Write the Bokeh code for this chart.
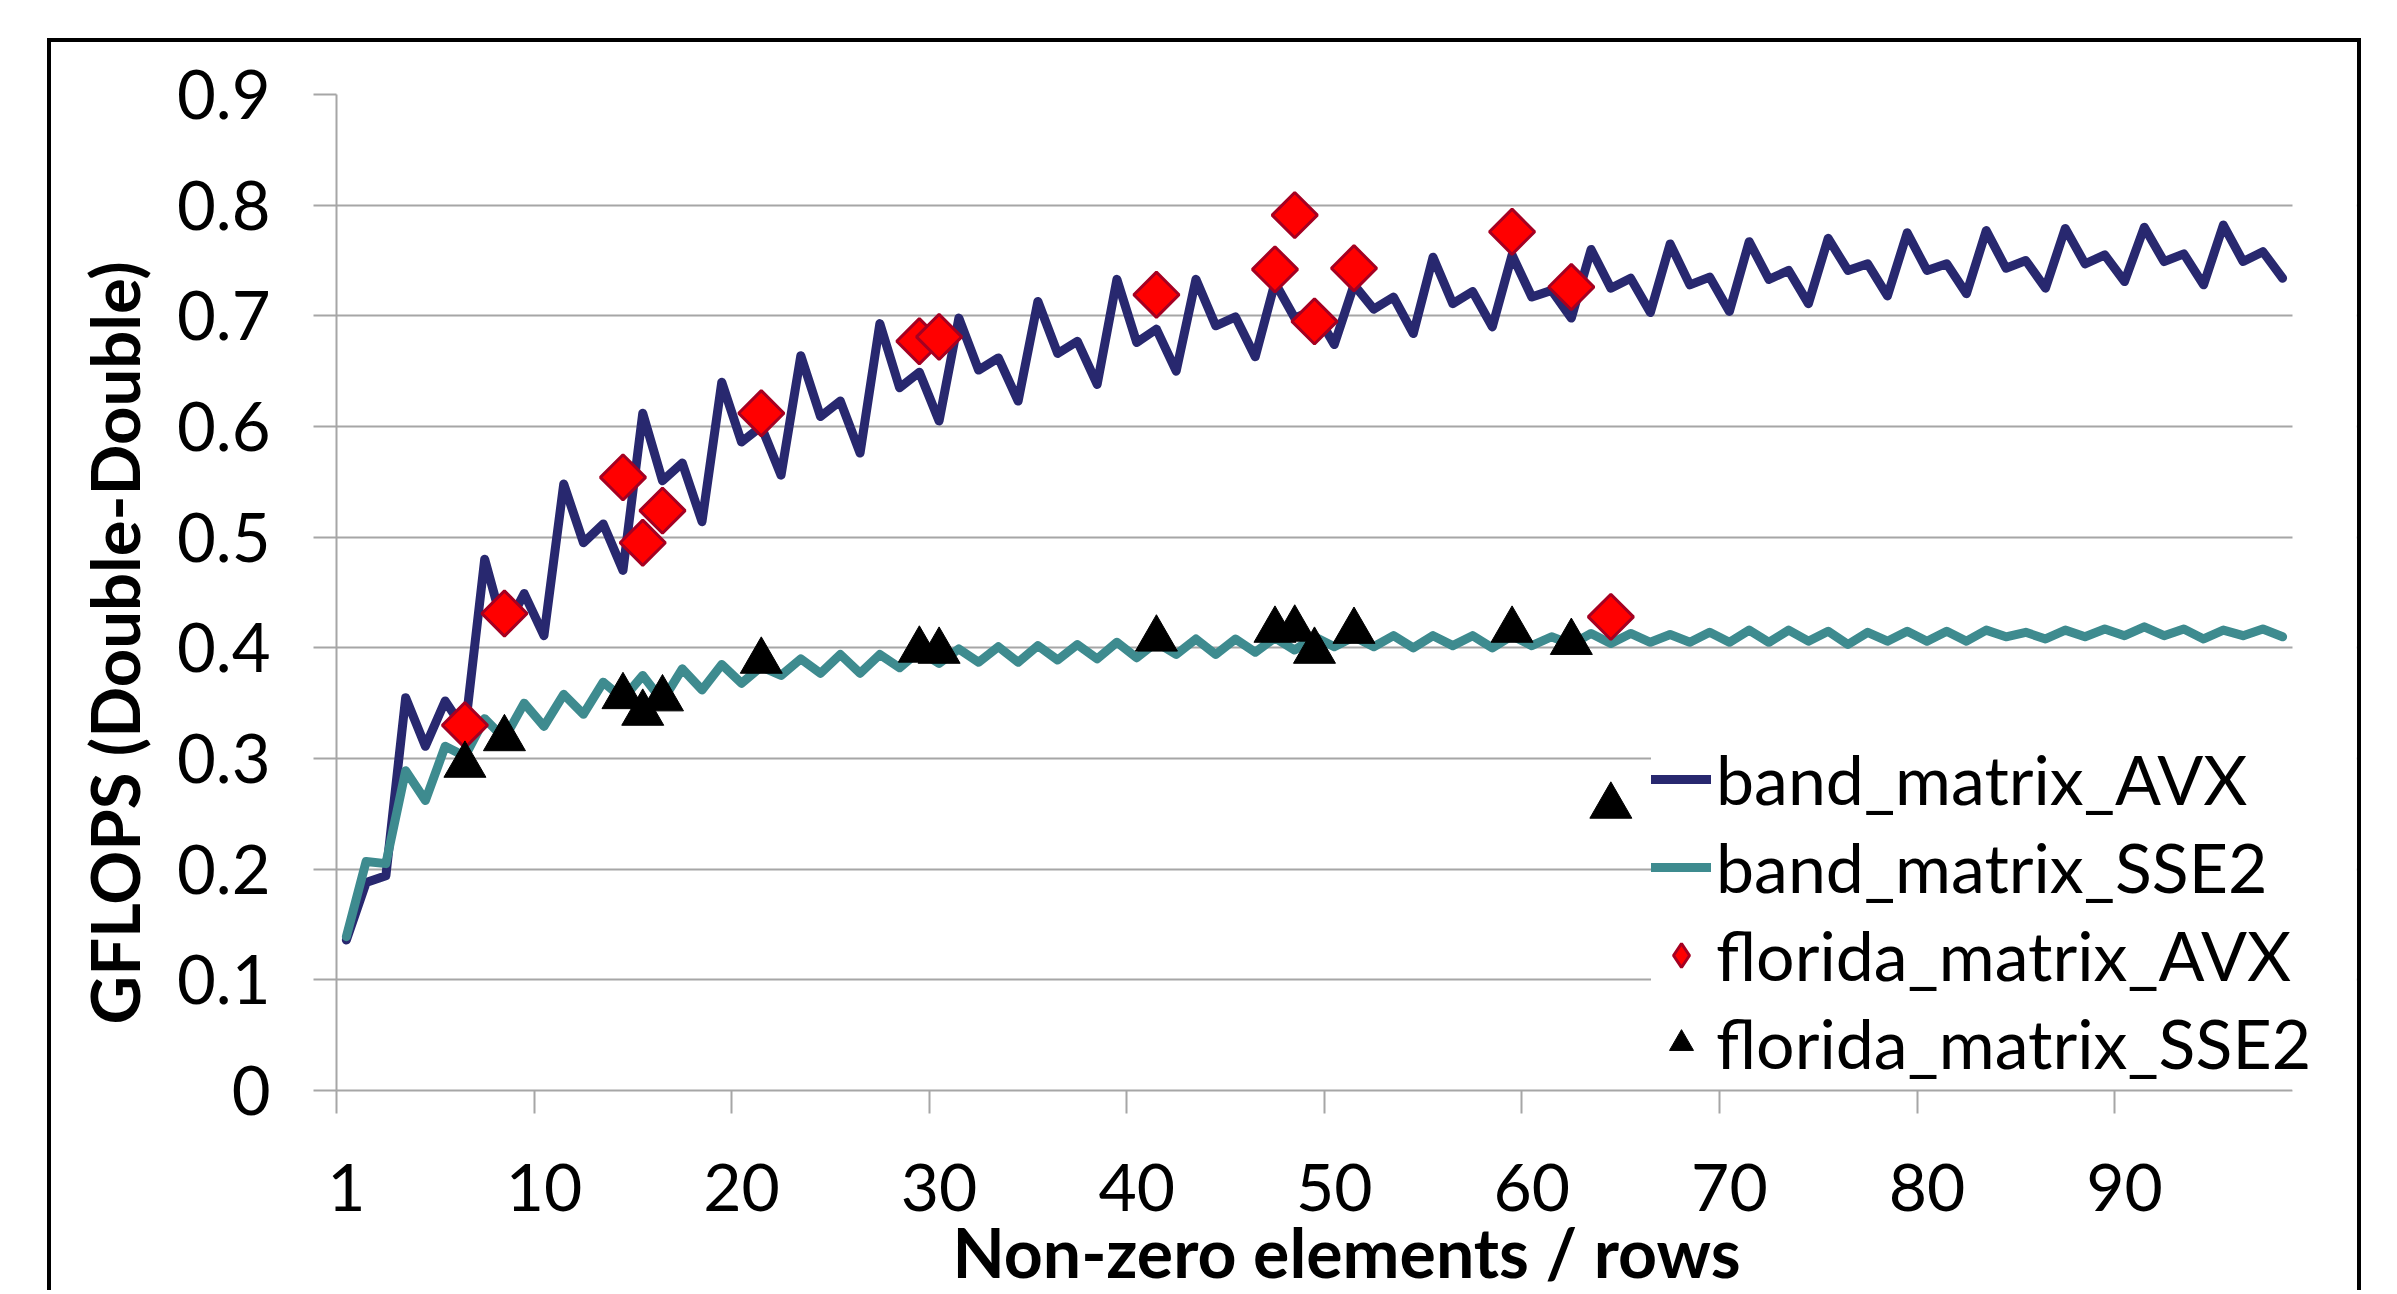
import math
from bokeh.plotting import figure
from bokeh.models import (Range1d, FixedTicker, Legend, LegendItem, Title,
                          BoxAnnotation, ColumnDataSource)
from bokeh.embed import file_html
from bokeh.resources import INLINE

# ---------------- data ----------------
x_tick_values = [0, 10, 20, 30, 40, 50, 60, 70, 80, 90]          # category index
x_tick_labels = ["1", "10", "20", "30", "40", "50", "60", "70", "80", "90"]
y_tick_values = [0.0, 0.1, 0.2, 0.3, 0.4, 0.5, 0.6, 0.7, 0.8, 0.9]
y_tick_labels = ["0", "0.1", "0.2", "0.3", "0.4", "0.5", "0.6", "0.7", "0.8", "0.9"]

band_matrix_AVX = [
    0.136, 0.188, 0.194, 0.355, 0.311, 0.352, 0.325, 0.480, 0.415, 0.449,
    0.411, 0.548, 0.495, 0.512, 0.470, 0.612, 0.551, 0.567, 0.514, 0.640,
    0.586, 0.600, 0.556, 0.664, 0.609, 0.623, 0.576, 0.693, 0.635, 0.649,
    0.605, 0.698, 0.651, 0.662, 0.623, 0.713, 0.666, 0.677, 0.638, 0.733,
    0.676, 0.688, 0.650, 0.733, 0.691, 0.699, 0.663, 0.730, 0.698, 0.705,
    0.674, 0.728, 0.706, 0.717, 0.684, 0.753, 0.711, 0.722, 0.690, 0.755,
    0.717, 0.723, 0.698, 0.760, 0.725, 0.734, 0.703, 0.765, 0.728, 0.735,
    0.704, 0.767, 0.733, 0.741, 0.711, 0.770, 0.741, 0.747, 0.718, 0.775,
    0.741, 0.747, 0.720, 0.777, 0.743, 0.750, 0.725, 0.779, 0.747, 0.755,
    0.731, 0.780, 0.749, 0.756, 0.728, 0.782, 0.749, 0.758, 0.734,
]
band_matrix_SSE2 = [
    0.139, 0.207, 0.205, 0.289, 0.262, 0.311, 0.302, 0.336, 0.318, 0.350,
    0.329, 0.358, 0.340, 0.369, 0.354, 0.375, 0.352, 0.381, 0.362, 0.385,
    0.368, 0.383, 0.375, 0.390, 0.377, 0.394, 0.377, 0.394, 0.382, 0.397,
    0.386, 0.399, 0.387, 0.401, 0.387, 0.402, 0.389, 0.403, 0.390, 0.405,
    0.391, 0.405, 0.394, 0.408, 0.394, 0.408, 0.396, 0.409, 0.398, 0.410,
    0.401, 0.410, 0.401, 0.411, 0.400, 0.411, 0.402, 0.411, 0.400, 0.411,
    0.402, 0.410, 0.403, 0.413, 0.404, 0.413, 0.405, 0.412, 0.405, 0.414,
    0.405, 0.416, 0.405, 0.416, 0.406, 0.415, 0.403, 0.414, 0.406, 0.415,
    0.406, 0.415, 0.406, 0.416, 0.410, 0.414, 0.408, 0.416, 0.410, 0.417,
    0.411, 0.419, 0.411, 0.417, 0.408, 0.416, 0.411, 0.417, 0.410,
]
florida_index = [6, 8, 14, 15, 16, 21, 29, 30, 41, 47, 48, 49, 51, 59, 62, 64]
florida_matrix_AVX = [0.330, 0.431, 0.554, 0.495, 0.524, 0.612, 0.677, 0.681,
                      0.719, 0.742, 0.791, 0.695, 0.743, 0.776, 0.726, 0.428]
florida_matrix_SSE2 = [0.294, 0.318, 0.356, 0.341, 0.354, 0.388, 0.398, 0.397,
                       0.408, 0.416, 0.417, 0.397, 0.415, 0.416, 0.405, 0.257]

n_cat = len(band_matrix_AVX)
band_src = ColumnDataSource(dict(x=list(range(n_cat)), avx=band_matrix_AVX, sse2=band_matrix_SSE2))
flo_src = ColumnDataSource(dict(x=florida_index, avx=florida_matrix_AVX, sse2=florida_matrix_SSE2))

# ---------------- figure ----------------
FONT = "Lato"
GRID = "#A6A6A6"
X_END = 101.74          # room on the right of the plot area for the legend text

p = figure(width=2314, height=1252, output_backend="svg", toolbar_location=None,
           x_range=Range1d(-0.5, X_END), y_range=Range1d(0, 0.9),
           min_border_left=285, min_border_right=9, min_border_top=52, min_border_bottom=204)
p.outline_line_color = None
p.background_fill_color = "white"
p.border_fill_color = "white"
p.styles = {"margin-left": "47px", "margin-top": "38px",
            "border-left": "4px solid black", "border-top": "4px solid black",
            "border-right": "4px solid black"}

# x axis: labels at category centres, tick marks at category boundaries
xa = p.xaxis[0]
xa.bounds = (-0.5, n_cat - 0.5)
xa.ticker = FixedTicker(ticks=x_tick_values, minor_ticks=[v - 0.5 for v in x_tick_values])
xa.major_label_overrides = {v: s for v, s in zip(x_tick_values, x_tick_labels)}
xa.axis_line_color = GRID
xa.axis_line_width = 2
xa.major_tick_line_color = None
xa.major_tick_out = 0
xa.major_tick_in = 0
xa.minor_tick_line_color = GRID
xa.minor_tick_line_width = 2
xa.minor_tick_out = 23
xa.minor_tick_in = 0
xa.major_label_standoff = 50
xa.major_label_text_font = FONT
xa.major_label_text_font_size = "66px"
xa.major_label_text_color = "black"

ya = p.yaxis[0]
ya.ticker = FixedTicker(ticks=y_tick_values, minor_ticks=[])
ya.major_label_overrides = {v: s for v, s in zip(y_tick_values, y_tick_labels)}
ya.axis_line_color = GRID
ya.axis_line_width = 2
ya.major_tick_line_color = GRID
ya.major_tick_line_width = 2
ya.major_tick_out = 23
ya.major_tick_in = 0
ya.minor_tick_line_color = None
ya.major_label_standoff = 43
ya.major_label_text_font = FONT
ya.major_label_text_font_size = "67px"
ya.major_label_text_color = "black"

p.xgrid.visible = False
p.ygrid.grid_line_color = GRID
p.ygrid.grid_line_width = 2

# hide the grid to the right of the last category (space kept for the legend)
p.add_layout(BoxAnnotation(left=n_cat - 0.5, fill_color="white", fill_alpha=1.0,
                           line_color=None))

# ---------------- series ----------------
r_avx = p.line("x", "avx", source=band_src, line_color="#28286F", line_width=9,
               line_join="round", line_cap="round")
r_sse = p.line("x", "sse2", source=band_src, line_color="#3E8B8F", line_width=9,
               line_join="round", line_cap="round")
r_favx = p.scatter("x", "avx", source=flo_src, marker="square", angle=math.pi / 4, size=32,
                   fill_color="#FF0000", line_color="#A50021", line_width=3)
r_fsse = p.scatter("x", "sse2", source=flo_src, marker="triangle", size=42,
                   fill_color="black", line_color="black", line_width=1)
# legend swatch for the diamond markers (the legend does not rotate markers);
# same data, not drawn in the plot itself
r_favx_key = p.scatter("x", "avx", source=flo_src, marker="diamond", fill_color="#FF0000",
                       line_color="#A50021", line_width=3, visible=False)

legend = Legend(items=[
    LegendItem(label="band_matrix_AVX", renderers=[r_avx]),
    LegendItem(label="band_matrix_SSE2", renderers=[r_sse]),
    LegendItem(label="florida_matrix_AVX", renderers=[r_favx_key]),
    LegendItem(label="florida_matrix_SSE2", renderers=[r_fsse]),
], location=(1315, 7), orientation="vertical",
    background_fill_color="white", background_fill_alpha=1.0, border_line_color=None,
    inactive_fill_alpha=0.0,
    padding=7, margin=0, spacing=7, glyph_width=60, glyph_height=80, label_height=80,
    label_standoff=5, label_text_font=FONT, label_text_font_size="68px",
    label_text_color="black")
p.add_layout(legend, "center")

# ---------------- axis titles ----------------
p.add_layout(Title(text="GFLOPS (Double-Double)", align="left", offset=66,
                   vertical_align="bottom", standoff=40, text_font=FONT,
                   text_font_style="bold", text_font_size="67px", text_color="black"), "left")
p.add_layout(Title(text="Non-zero elements / rows", align="center",
                   vertical_align="bottom", standoff=-10, text_font=FONT,
                   text_font_style="bold", text_font_size="68px", text_color="black"), "below")

open("out.html", "w").write(file_html(p, INLINE))
